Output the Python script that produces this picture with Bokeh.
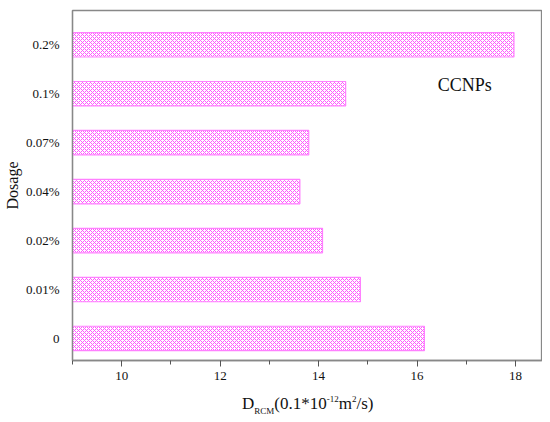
from bokeh.plotting import figure
from bokeh.models import Label, FixedTicker, Range1d, Div
from bokeh.layouts import column
from bokeh.embed import file_html
from bokeh.resources import INLINE

dosages = ["0", "0.01%", "0.02%", "0.04%", "0.07%", "0.1%", "0.2%"]
d_rcm = [16.15, 14.85, 14.08, 13.62, 13.80, 14.55, 17.97]
x_ticks = [10, 12, 14, 16, 18]
x_minor = [9, 11, 13, 15, 17]
series_name = "CCNPs"

FONT = "Liberation Serif"
pos = list(range(len(dosages)))
x0 = 9.0

p = figure(width=542, height=388, output_backend="svg", toolbar_location=None,
           x_range=Range1d(x0, 18.55), y_range=Range1d(-0.45, len(dosages) - 1 + 0.7),
           min_border_left=72, min_border_right=0, min_border_top=10, min_border_bottom=28)
p.grid.visible = False
p.outline_line_color = "#888888"
p.outline_line_width = 1.3

p.hbar(y=pos, left=x0, right=d_rcm, height=0.5, fill_color="white",
       line_color="#ff80ff", line_width=1.2,
       hatch_pattern="x", hatch_scale=4, hatch_color="#ff55ff", hatch_weight=1.0)

for ax in (p.xaxis[0], p.yaxis[0]):
    ax.axis_line_color = "#888888"
    ax.axis_line_width = 1.3
    ax.major_tick_line_color = "#555555"
    ax.minor_tick_line_color = "#555555"
    ax.major_label_text_font = FONT
    ax.major_label_text_font_size = "13px"
    ax.major_label_text_color = "#111111"

p.xaxis.ticker = FixedTicker(ticks=x_ticks, minor_ticks=x_minor)
p.xaxis.major_tick_in = 0
p.xaxis.major_tick_out = 6
p.xaxis.minor_tick_in = 0
p.xaxis.minor_tick_out = 4
p.xaxis.major_label_standoff = 5

p.yaxis.ticker = FixedTicker(ticks=pos)
p.yaxis.major_label_overrides = {i: d for i, d in enumerate(dosages)}
p.yaxis.major_tick_line_color = None
p.yaxis.minor_tick_line_color = None
p.yaxis.major_label_standoff = 7
p.yaxis.axis_label = "Dosage"
p.yaxis.axis_label_text_font = FONT
p.yaxis.axis_label_text_font_style = "normal"
p.yaxis.axis_label_text_font_size = "16px"
p.yaxis.axis_label_text_color = "#111111"
p.yaxis.axis_label_standoff = 2

p.add_layout(Label(x=16.42, y=5.17, text=series_name, text_font=FONT,
                   text_font_size="18px", text_baseline="middle", text_color="#111111"))

sm = "font-size:9px;position:relative;"
xlabel_html = (
    '<div style="font-family:\'Liberation Serif\';font-size:17px;color:#111;'
    'padding-left:242px;padding-top:6px;line-height:20px;white-space:nowrap;">'
    'D<span style="' + sm + 'top:5px;">RCM</span>(0.1*10'
    '<span style="' + sm + 'top:-7px;">-12</span>m'
    '<span style="' + sm + 'top:-7px;">2</span>/s)</div>'
)
xlabel = Div(text=xlabel_html, width=542, height=26, margin=0)

layout = column(p, xlabel, spacing=0)
open("out.html", "w").write(file_html(layout, INLINE))
